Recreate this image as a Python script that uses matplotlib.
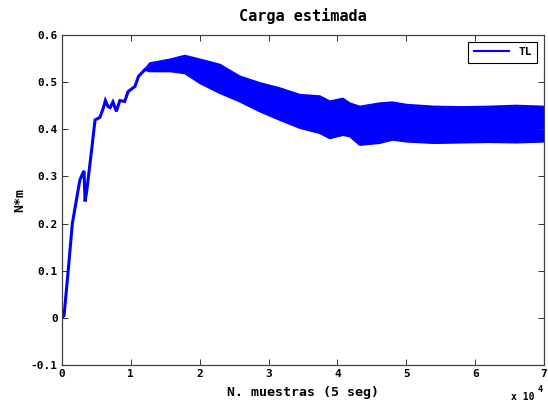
import matplotlib
matplotlib.use("Agg")
import matplotlib.pyplot as plt
from matplotlib.lines import Line2D

# Early (thin) part of the estimated load curve
x_line = [0, 300, 900, 1500, 2600, 3200, 3350, 3600, 4300, 4800, 5500, 6000, 6300,
          6700, 7000, 7400, 7900, 8400, 9100, 9600, 10600, 11100, 12000]
y_line = [0.0, 0.005, 0.10, 0.20, 0.293, 0.312, 0.247, 0.27, 0.356, 0.42, 0.425, 0.445,
          0.461, 0.448, 0.446, 0.458, 0.438, 0.461, 0.459, 0.480, 0.491, 0.512, 0.526]

# Oscillating band envelope (upper / lower)
x_band = [12000, 12770, 15700, 17850, 20030, 22930, 25830, 28740, 31640, 34540, 37450, 38900,
          40780, 41800, 43250, 46150, 48000, 50000, 54000, 58000, 62000, 66000, 70000]
y_upper = [0.526, 0.540, 0.548, 0.556, 0.548, 0.537, 0.512, 0.498, 0.487, 0.473, 0.470, 0.459,
           0.465, 0.455, 0.448, 0.455, 0.457, 0.452, 0.448, 0.447, 0.448, 0.450, 0.448]
y_lower = [0.526, 0.523, 0.523, 0.519, 0.498, 0.477, 0.459, 0.438, 0.420, 0.403, 0.392, 0.381,
           0.388, 0.385, 0.367, 0.371, 0.378, 0.374, 0.371, 0.372, 0.373, 0.372, 0.374]

y_ticks = [-0.1, 0, 0.1, 0.2, 0.3, 0.4, 0.5, 0.6]
y_tick_labels = ['-0.1', '0', '0.1', '0.2', '0.3', '0.4', '0.5', '0.6']
x_ticks = [0, 10000, 20000, 30000, 40000, 50000, 60000, 70000]
x_tick_labels = ['0', '1', '2', '3', '4', '5', '6', '7']

mono = ['DejaVu Sans Mono']
blue = '#0000ff'

fig = plt.figure(figsize=(5.48, 4.03), dpi=100)
ax = fig.add_axes([62/548, 38/403, (544-62)/548, (365-35)/403])

ax.plot(x_line, y_line, color=blue, lw=2.2, solid_joinstyle='miter')
ax.fill_between(x_band, y_lower, y_upper, color=blue, lw=0)
ax.plot(x_band, y_upper, color=blue, lw=1.5)
ax.plot(x_band, y_lower, color=blue, lw=1.5)

ax.set_xlim(0, 70000)
ax.set_ylim(-0.1, 0.6)
ax.set_xticks(x_ticks)
ax.set_xticklabels(x_tick_labels, family=mono, fontweight='bold', fontsize=8)
ax.set_yticks(y_ticks)
ax.set_yticklabels(y_tick_labels, family=mono, fontweight='bold', fontsize=8)
ax.tick_params(direction='in', top=True, right=True, length=4, width=0.7,
               color='#333333', pad=3)
for s in ax.spines.values():
    s.set_color('#404040')
    s.set_linewidth(0.9)

ax.set_title('Carga estimada', family=mono, fontweight='bold', fontsize=11, pad=10)
ax.set_xlabel('N. muestras (5 seg)', family=mono, fontweight='bold', fontsize=9.5, labelpad=5)
ax.set_ylabel('N*m', family=mono, fontweight='bold', fontsize=9.5, labelpad=3)

ax.text(0.932, -0.097, 'x 10', transform=ax.transAxes, family=mono, fontweight='bold',
        fontsize=7, ha='left', va='center')
ax.text(0.987, -0.074, '4', transform=ax.transAxes, family=mono, fontweight='bold',
        fontsize=6, ha='left', va='center')

handle = Line2D([0], [0], color=blue, lw=1.5)
leg = ax.legend([handle], ['TL'], loc='upper right', fancybox=False, framealpha=1,
                edgecolor='black', handlelength=3.2,
                prop={'family': mono, 'weight': 'bold', 'size': 8},
                borderaxespad=0.6, borderpad=0.5)
leg.get_frame().set_linewidth(0.8)

fig.savefig('out.png', dpi=100)
